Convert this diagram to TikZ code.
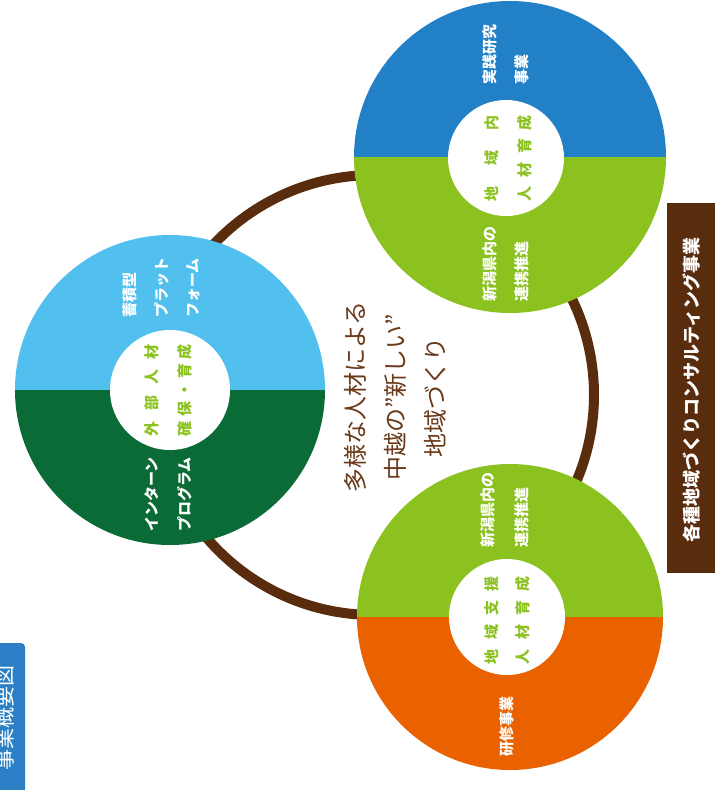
\documentclass[tikz,border=0pt]{standalone}
\usepackage{fontspec}
\newfontfamily\jp{Noto Sans CJK JP}
\definecolor{sky}{HTML}{52C0EE}
\definecolor{forest}{HTML}{0B6B36}
\definecolor{ocean}{HTML}{2280C6}
\definecolor{leaf}{HTML}{8CC220}
\definecolor{tangerine}{HTML}{EA6100}
\definecolor{bark}{HTML}{5A2C0E}
\definecolor{cocoa}{HTML}{6B3A1A}
\definecolor{tagblue}{HTML}{2A7FC5}
\begin{document}
\begin{tikzpicture}[x=1pt,y=-1pt,
  lbl/.style={text=white,font=\jp\bfseries\fontsize{15}{18}\selectfont,rotate=90,inner sep=0,anchor=west},
  core/.style={text=leaf,font=\jp\bfseries\fontsize{15}{18}\selectfont,rotate=90,inner sep=0},
  ringline/.style={draw=bark,line width=10pt},
  hole/.style={fill=white}]
\useasboundingbox (0,0) rectangle (720,790);
\fill[white] (0,0) rectangle (720,790);

% connecting ring behind the three discs
\draw[ringline] (374,395) circle (220);

% left disc
\begin{scope}
  \clip (170,390) circle (155);
  \fill[sky] (0,230) rectangle (330,390);
  \fill[forest] (0,390) rectangle (330,550);
\end{scope}
\fill[hole] (170,390) circle (60);

% upper right disc
\begin{scope}
  \clip (510,157) circle (156);
  \fill[ocean] (350,0) rectangle (670,157);
  \fill[leaf] (350,157) rectangle (670,315);
\end{scope}
\fill[hole] (506,158) circle (58);

% lower right disc
\begin{scope}
  \clip (510,617) circle (153);
  \fill[leaf] (350,460) rectangle (670,617);
  \fill[tangerine] (350,617) rectangle (670,775);
\end{scope}
\fill[hole] (507,617) circle (58);

% labels, left disc
\node[lbl] (l1) at (130,318) {蓄積型};
\node[lbl] (l2) at (162,318) {プラット};
\node[lbl] (l3) at (193,318) {フォーム};
\node[lbl] (l4) at (152,532) {インターン};
\node[lbl] (l5) at (185,532) {プログラム};
\node[core] (l6) at (152,390) {\makebox[92pt][s]{外\hfill 部\hfill 人\hfill 材}};
\node[core] (l7) at (185,390) {\makebox[92pt][s]{確\hfill 保\hfill ・\hfill 育\hfill 成}};

% labels, upper right disc
\node[lbl] (u1) at (490,85) {実践研究};
\node[lbl] (u2) at (522,85) {事業};
\node[lbl] (u3) at (490,302) {新潟県内の};
\node[lbl] (u4) at (522,302) {連携推進};
\node[core] (u5) at (492,158) {\makebox[86pt][s]{地\hfill 域\hfill 内}};
\node[core] (u6) at (525,158) {\makebox[86pt][s]{人\hfill 材\hfill 育\hfill 成}};

% labels, lower right disc
\node[lbl] (d1) at (488,548) {新潟県内の};
\node[lbl] (d2) at (522,548) {連携推進};
\node[core] (d3) at (492,620) {\makebox[88pt][s]{地\hfill 域\hfill 支\hfill 援}};
\node[core] (d4) at (523,620) {\makebox[88pt][s]{人\hfill 材\hfill 育\hfill 成}};
\node[lbl] (d5) at (507,757) {研修事業};

% central message
\node[rotate=90,align=center,text=cocoa,font=\jp\fontsize{24}{40}\selectfont] (msg) at (395,397)
  {多様な人材による\\中越の”新しい”\\地域づくり};

% consulting bar
\fill[bark] (667,203) rectangle (715,573);
\node[rotate=90,text=white,font=\jp\bfseries\fontsize{18}{20}\selectfont] (bar) at (691,390)
  {各種地域づくりコンサルティング事業};

% corner tag
\fill[tagblue,rounded corners=4pt] (-30,643) rectangle (25,810);
\node[rotate=90,text=white,font=\jp\fontsize{21}{24}\selectfont] (tag) at (5,718) {事業概要図};
\end{tikzpicture}
\end{document}
